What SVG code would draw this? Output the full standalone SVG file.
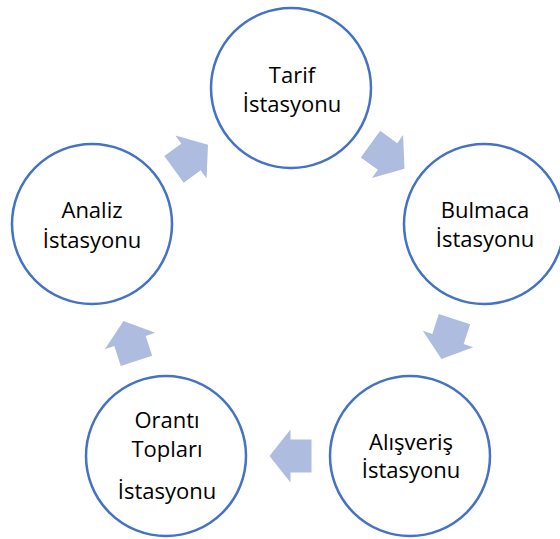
<svg xmlns="http://www.w3.org/2000/svg" width="560" height="539" viewBox="0 0 560 539">
<defs>
<style>
.node circle{fill:#fff;stroke:#4472C4;stroke-width:2.5}
.node text{font-family:"Open Sans","Liberation Sans",sans-serif;font-size:22px;fill:#000;text-anchor:middle}
.arr{fill:#AEBCDF}
</style>
<path id="ba" d="M-21,-16.5 H0 V-26.5 L21,0 L0,26.5 V16.5 H-21 Z"/>
</defs>
<rect width="560" height="539" fill="#fff"/>
<g id="connectors">
<use href="#ba" class="arr" transform="translate(387.5,156.5) rotate(36)"/>
<use href="#ba" class="arr" transform="translate(448,339) rotate(108)"/>
<use href="#ba" class="arr" transform="translate(290.5,456) rotate(180)"/>
<use href="#ba" class="arr" transform="translate(130,341) rotate(252)"/>
<use href="#ba" class="arr" transform="translate(191,157) rotate(324)"/>
</g>
<g id="tarif" class="node">
<circle cx="291" cy="88" r="80"/>
<text x="292" y="83">Tarif</text>
<text x="292" y="112">İstasyonu</text>
</g>
<g id="bulmaca" class="node">
<circle cx="484" cy="224" r="80"/>
<text x="485" y="218">Bulmaca</text>
<text x="485" y="247">İstasyonu</text>
</g>
<g id="alisveris" class="node">
<circle cx="410" cy="456" r="80"/>
<text x="411" y="450">Alışveriş</text>
<text x="411" y="478">İstasyonu</text>
</g>
<g id="oranti" class="node">
<circle cx="166" cy="456" r="80"/>
<text x="167" y="428">Orantı</text>
<text x="167" y="457">Topları</text>
<text x="167" y="499">İstasyonu</text>
</g>
<g id="analiz" class="node">
<circle cx="92" cy="224" r="80"/>
<text x="92" y="218">Analiz</text>
<text x="92" y="248">İstasyonu</text>
</g>
</svg>
